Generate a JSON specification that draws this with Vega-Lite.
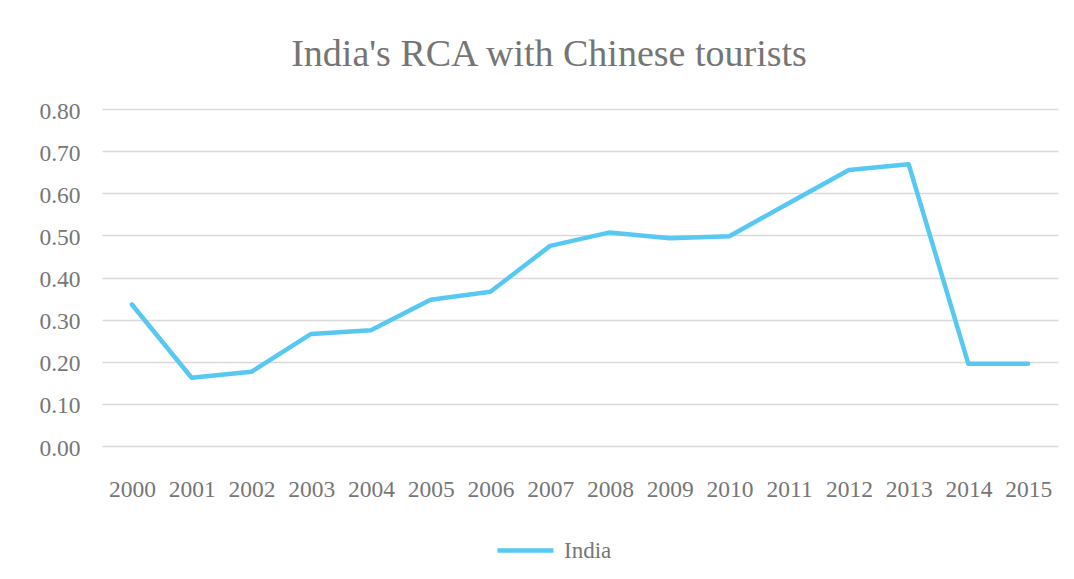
{
  "$schema": "https://vega.github.io/schema/vega-lite/v6.json",
  "autosize": {"type": "none"},
  "width": 956,
  "height": 337,
  "padding": {"left": 102, "top": 109, "right": 16, "bottom": 133},
  "background": "white",
  "title": {
    "text": "India's RCA with Chinese tourists",
    "font": "Liberation Serif",
    "fontSize": 38,
    "fontWeight": "normal",
    "color": "#757575",
    "frame": "group",
    "anchor": "middle",
    "baseline": "alphabetic",
    "offset": -5,
    "dx": -31
  },
  "data": {
    "values": [
      {"year": "2000", "rca": 0.336, "series": "India"},
      {"year": "2001", "rca": 0.162, "series": "India"},
      {"year": "2002", "rca": 0.176, "series": "India"},
      {"year": "2003", "rca": 0.266, "series": "India"},
      {"year": "2004", "rca": 0.275, "series": "India"},
      {"year": "2005", "rca": 0.347, "series": "India"},
      {"year": "2006", "rca": 0.366, "series": "India"},
      {"year": "2007", "rca": 0.475, "series": "India"},
      {"year": "2008", "rca": 0.507, "series": "India"},
      {"year": "2009", "rca": 0.493, "series": "India"},
      {"year": "2010", "rca": 0.498, "series": "India"},
      {"year": "2011", "rca": 0.577, "series": "India"},
      {"year": "2012", "rca": 0.655, "series": "India"},
      {"year": "2013", "rca": 0.669, "series": "India"},
      {"year": "2014", "rca": 0.195, "series": "India"},
      {"year": "2015", "rca": 0.195, "series": "India"}
    ]
  },
  "mark": {"type": "line", "strokeWidth": 4.5, "strokeCap": "round", "strokeJoin": "round"},
  "encoding": {
    "x": {
      "field": "year",
      "type": "ordinal",
      "scale": {"type": "point", "padding": 0.5},
      "axis": {
        "title": null,
        "labelAngle": 0,
        "domain": false,
        "ticks": false,
        "tickSize": 0,
        "grid": false,
        "labelFont": "Liberation Serif",
        "labelFontSize": 23.5,
        "labelColor": "#767676",
        "labelBaseline": "alphabetic",
        "labelPadding": 50
      }
    },
    "y": {
      "field": "rca",
      "type": "quantitative",
      "scale": {"domain": [0, 0.8], "nice": false},
      "axis": {
        "title": null,
        "values": [0, 0.1, 0.2, 0.3, 0.4, 0.5, 0.6, 0.7, 0.8],
        "format": ".2f",
        "domain": false,
        "ticks": false,
        "tickSize": 0,
        "grid": true,
        "gridColor": "#d9d9d9",
        "gridWidth": 1.3,
        "labelFont": "Liberation Serif",
        "labelFontSize": 23.5,
        "labelColor": "#767676",
        "labelPadding": 22,
        "labelOffset": 2
      }
    },
    "color": {
      "field": "series",
      "type": "nominal",
      "scale": {"range": ["#56C8F2"]},
      "legend": {
        "title": null,
        "orient": "none",
        "legendX": 393,
        "legendY": 411,
        "symbolType": "stroke",
        "symbolSize": 3136,
        "symbolStrokeWidth": 4.5,
        "labelFont": "Liberation Serif",
        "labelFontSize": 23,
        "labelColor": "#767676",
        "labelOffset": 8,
        "padding": 0
      }
    }
  },
  "config": {"view": {"stroke": null}}
}
